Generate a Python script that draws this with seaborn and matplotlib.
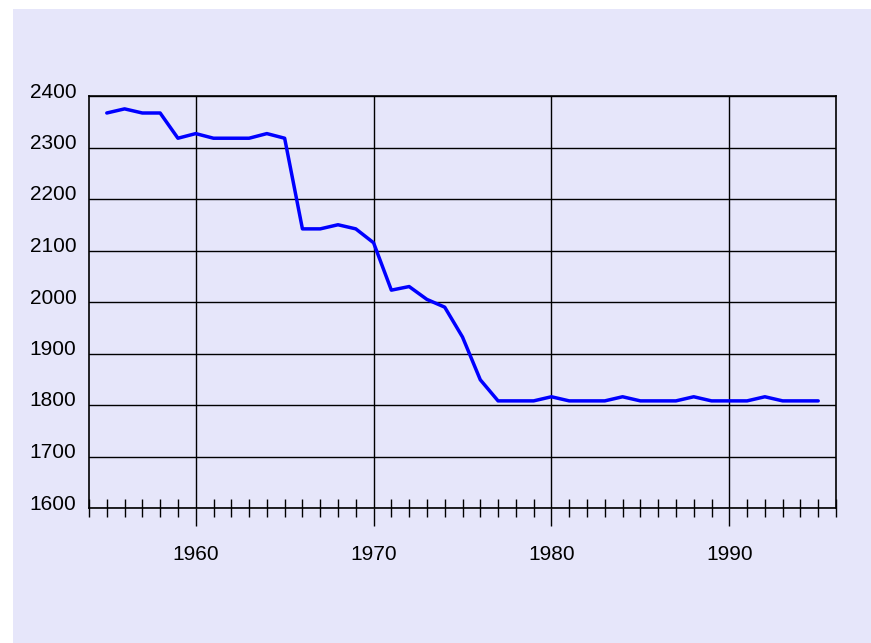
"""
Line chart of a yearly series, 1955-1995, on a lavender panel
"""

import numpy as np
import pandas as pd
import matplotlib
matplotlib.use('Agg')
import matplotlib.pyplot as plt
import matplotlib.transforms as mtransforms
from matplotlib.patches import Rectangle
from matplotlib.ticker import MultipleLocator
import seaborn as sns

years = list(range(1955, 1996))
values = [2367, 2375, 2367, 2367, 2318, 2327, 2318, 2318, 2318, 2327,
          2318, 2142, 2142, 2150, 2142, 2115, 2023, 2030, 2005, 1990,
          1932, 1849, 1808, 1808, 1808, 1816, 1808, 1808, 1808, 1816,
          1808, 1808, 1808, 1816, 1808, 1808, 1808, 1816, 1808, 1808,
          1808]

panel_color = '#e6e6fa'

sns.set_style('white')
plt.rcParams['font.family'] = ['Liberation Sans', 'DejaVu Sans']

df = pd.DataFrame({'year': years, 'value': values})

fig = plt.figure(figsize=(8.71, 6.43), dpi=100)
fig.patch.set_facecolor('white')
fig.patches.append(Rectangle((13 / 871, 0), 1, 1 - 9 / 643, transform=fig.transFigure,
                             facecolor=panel_color, edgecolor='none', zorder=-1))
# title sits mostly above the visible page
fig.text(33 / 871, 1.012, 'Data about the series', color='#888888', fontsize=15,
         va='center', ha='left')

ax = fig.add_axes([89 / 871, 135 / 643, 747 / 871, 412 / 643])
ax.set_facecolor(panel_color)

sns.lineplot(data=df, x='year', y='value', ax=ax, color='#0000ff', linewidth=2.5)

ax.set_xlim(1954, 1996)
ax.set_ylim(1600, 2400)
ax.xaxis.set_major_locator(MultipleLocator(10))
ax.xaxis.set_minor_locator(MultipleLocator(1))
ax.yaxis.set_major_locator(MultipleLocator(100))

ax.grid(True, which='major', color='black', linewidth=1)
ax.set_axisbelow(True)
ax.set_xlabel('')
ax.set_ylabel('')

ax.tick_params(axis='x', which='both', bottom=True)
ax.tick_params(axis='x', which='major', direction='out', length=13, width=1,
               color='black', pad=14, labelsize=15, labelcolor='black')
ax.tick_params(axis='x', which='minor', direction='inout', length=13, width=1,
               color='black')
ax.tick_params(axis='y', which='major', left=False, length=0, pad=9,
               labelsize=15, labelcolor='black')

offset = mtransforms.ScaledTranslation(0, 6 / 100, fig.dpi_scale_trans)
for label in ax.get_yticklabels():
    label.set_transform(label.get_transform() + offset)

for spine in ax.spines.values():
    spine.set_visible(True)
    spine.set_color('black')
    spine.set_linewidth(1.2)

fig.savefig('out.png', dpi=100)
